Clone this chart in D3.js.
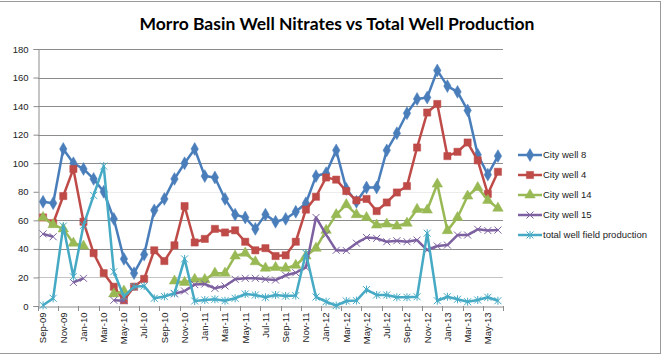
<!DOCTYPE html>
<html><head><meta charset="utf-8">
<script src="https://cdn.jsdelivr.net/npm/d3@7"></script>
<style>html,body{margin:0;padding:0;background:#fff;}svg{display:block;}</style>
</head><body>
<svg id="chart" width="664" height="357"></svg>
<script>
const months = ["Sep-09","Oct-09","Nov-09","Dec-09","Jan-10","Feb-10","Mar-10","Apr-10","May-10","Jun-10","Jul-10","Aug-10",
"Sep-10","Oct-10","Nov-10","Dec-10","Jan-11","Feb-11","Mar-11","Apr-11","May-11","Jun-11","Jul-11","Aug-11",
"Sep-11","Oct-11","Nov-11","Dec-11","Jan-12","Feb-12","Mar-12","Apr-12","May-12","Jun-12","Jul-12","Aug-12",
"Sep-12","Oct-12","Nov-12","Dec-12","Jan-13","Feb-13","Mar-13","Apr-13","May-13","Jun-13"];
const tickLabels = ["Sep-09","Nov-09","Jan-10","Mar-10","May-10","Jul-10","Sep-10","Nov-10","Jan-11","Mar-11","May-11","Jul-11",
"Sep-11","Nov-11","Jan-12","Mar-12","May-12","Jul-12","Sep-12","Nov-12","Jan-13","Mar-13","May-13"];
const yTicks = [0,20,40,60,80,100,120,140,160,180];

const well8 = [73,72,110,100,96,89,80,61,33,23,36,67,75,89,100,110,91,90,75,64,62,54,64,59,61,66,72,91,93,109,82,73,83,83,109,121,135,145,146,165,154,150,137,106,92,105];
const well4 = [62,58,77,96,59,37,23,13.5,4,13.5,19,39,31.5,42.5,70,44.5,47,54,51.5,53,45,39,40.5,35,35.5,45,67.5,76.5,90,88.5,80.5,74,75,66.5,72.5,79.5,84,111,135.5,141.5,105,108,114.5,102,78.5,94];
const well14 = [62,57,54,44,42,null,null,8.5,10.5,null,null,null,null,17.5,16.5,18.7,18.5,23,23,35,37,31,26.5,27,26.5,28.5,35,40.5,53,64,71,64,62,56.7,57.4,56,58,67.7,67.2,85.4,52.8,62,77,83,74,68.5];
const well15 = [50.5,48.5,null,16.5,19.4,null,null,4,3.7,null,null,null,null,8.5,10.5,15,15.4,12.4,14,18.7,19.4,19.4,18.7,18.2,21.5,23.3,27,62,50,39,38.8,44,48,47.4,45,45.7,45,46.2,39.2,42,42.7,49.7,49.7,53.7,52.8,53.2];
const totalProd = [0.5,5.4,56,20.5,56.5,77.5,98,24,6.5,13.5,14,5.4,6.7,8.9,33,3.5,4.2,4.7,3.7,5.4,8.4,7.7,6.1,7.7,7,7.3,37,6.3,3,0.3,3.5,3.8,11.5,7.7,7.7,6.1,6.1,6.5,51,3.7,6.5,4.7,3,4.2,6.1,3.7];

const seriesNames = ["City well 8","City well 4","City well 14","City well 15","total well field production"];
const seriesValues = [well8, well4, well14, well15, totalProd];
const colors = ["#4A7EBB","#BE4B48","#98B954","#7D60A0","#46AAC5"];
const markers = ["diamond","square","triangle","x","star"];

const svg = d3.select("#chart");
const plotLeft = 38, plotRight = 503, plotTop = 49, plotBottom = 306;

// frame
svg.append("line").attr("x1",0).attr("x2",661).attr("y1",1.5).attr("y2",1.5).attr("stroke","#9a9a9a");
svg.append("line").attr("x1",0).attr("x2",661).attr("y1",353.5).attr("y2",353.5).attr("stroke","#9a9a9a");
svg.append("line").attr("x1",660.5).attr("x2",660.5).attr("y1",1.5).attr("y2",353.5).attr("stroke","#9a9a9a");

const x = d3.scaleBand().domain(months).range([plotLeft, plotRight]).padding(0);
const y = d3.scaleLinear().domain([0,180]).range([plotBottom, plotTop]);
const cx = m => x(m) + x.bandwidth()/2;

// gridlines
const gridColor = {20:"#c4c4c4",80:"#ececec"};
svg.append("g").selectAll("line").data(yTicks.filter(t=>t>0)).join("line")
  .attr("x1", plotLeft).attr("x2", plotRight)
  .attr("y1", d=>Math.round(y(d))+0.5).attr("y2", d=>Math.round(y(d))+0.5)
  .attr("stroke", d=> gridColor[d] || "#8c8c8c").attr("stroke-width",1);

// y axis
const yAxis = d3.axisLeft(y).tickValues(yTicks).tickSize(5).tickPadding(5);
const gy = svg.append("g").attr("transform",`translate(${plotLeft+0.5},0)`).call(yAxis);
gy.select(".domain").attr("stroke","#8c8c8c");
gy.selectAll(".tick line").attr("stroke","#8c8c8c");
gy.selectAll(".tick text").attr("font-family","'Liberation Sans', Arial, sans-serif").attr("font-size","9.5px").attr("fill","#222");

// x axis
const xAxis = d3.axisBottom(x).tickValues(tickLabels).tickSize(0).tickPadding(0);
const gx = svg.append("g").attr("transform",`translate(0,${plotBottom+0.5})`).call(xAxis);
gx.select(".domain").attr("stroke","#8c8c8c");
gx.selectAll(".tick text")
  .attr("font-family","'Liberation Sans', Arial, sans-serif").attr("font-size","9.5px").attr("fill","#222")
  .attr("text-anchor","end").attr("dy","0.35em")
  .attr("transform","translate(0,6) rotate(-90)").attr("x",0).attr("y",0);
const boundaries = months.filter((m,i)=>i%2===0).map(m=>x(m)).concat([plotRight]);
svg.append("g").selectAll("line").data(boundaries).join("line")
  .attr("x1",d=>Math.round(d)+0.5).attr("x2",d=>Math.round(d)+0.5)
  .attr("y1",plotBottom).attr("y2",plotBottom+5).attr("stroke","#8c8c8c");

// series
const lineGen = d3.line().defined(d=>d.v!==null).x(d=>cx(d.m)).y(d=>y(d.v));
function markerPath(type){
  if(type==="diamond") return d3.symbol(d3.symbolDiamond, 48)();
  if(type==="square") return d3.symbol(d3.symbolSquare, 52)();
  if(type==="triangle") return d3.symbol(d3.symbolTriangle, 48)();
  if(type==="x") return "M-3.5,-3.5L3.5,3.5M-3.5,3.5L3.5,-3.5";
  return "M-3.5,-3.5L3.5,3.5M-3.5,3.5L3.5,-3.5M0,-4L0,4";
}
seriesValues.forEach((vals, si)=>{
  const data = months.map((m,i)=>({m, v: vals[i]}));
  const g = svg.append("g");
  g.append("path").attr("d", lineGen(data)).attr("fill","none")
    .attr("stroke", colors[si]).attr("stroke-width",2.5).attr("stroke-linejoin","round");
  const filled = si < 3;
  g.selectAll("path.mk").data(data.filter(d=>d.v!==null)).join("path").attr("class","mk")
    .attr("d", markerPath(markers[si]))
    .attr("transform", d=>`translate(${cx(d.m)},${y(d.v)})`)
    .attr("fill", filled ? colors[si] : "none")
    .attr("stroke", colors[si]).attr("stroke-width", filled ? 0.5 : 1);
});

// legend
const lg = svg.append("g").attr("transform","translate(518,0)");
const legY = [155,175,195,215,235];
seriesNames.forEach((name, si)=>{
  const yy = legY[si];
  lg.append("line").attr("x1",0).attr("x2",24).attr("y1",yy).attr("y2",yy)
    .attr("stroke",colors[si]).attr("stroke-width",2.5);
  const filled = si < 3;
  lg.append("path").attr("d", markerPath(markers[si])).attr("transform",`translate(12,${yy})`)
    .attr("fill", filled ? colors[si] : "none").attr("stroke",colors[si]).attr("stroke-width", filled?0.5:1);
  lg.append("text").attr("x",25).attr("y",yy).attr("dy","0.35em")
    .attr("font-family","'Liberation Sans', Arial, sans-serif").attr("font-size","9.5px").attr("fill","#222")
    .text(name);
});

// title
svg.append("text").attr("x",337).attr("y",30).attr("text-anchor","middle")
  .attr("font-family","Lato, 'Open Sans', sans-serif").attr("font-weight","bold").attr("font-size","17.5px")
  .attr("fill","#000").text("Morro Basin Well Nitrates vs Total Well Production");
</script>
</body></html>
